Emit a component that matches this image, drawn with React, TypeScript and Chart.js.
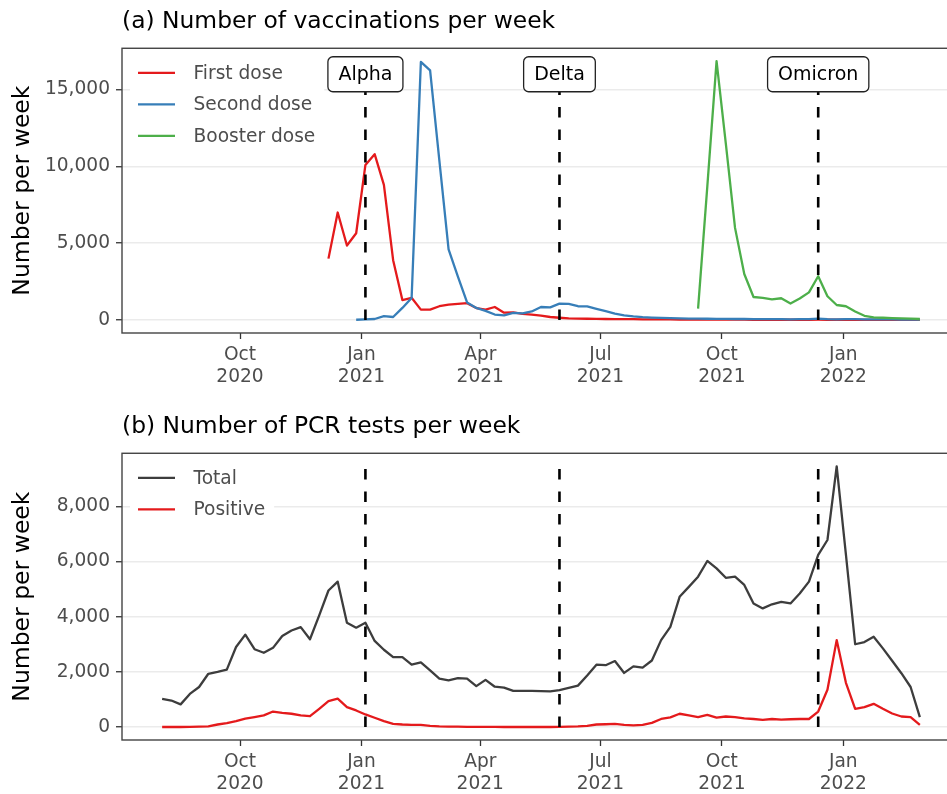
import React, { useEffect, useRef } from "react";
import { Chart, registerables } from "chart.js";

Chart.register(...registerables);

const FONT = "'DejaVu Sans', sans-serif";

// Week start dates (Mondays)
const weeks = [
  "2020-08-03", "2020-08-10", "2020-08-17", "2020-08-24", "2020-08-31",
  "2020-09-07", "2020-09-14", "2020-09-21", "2020-09-28",
  "2020-10-05", "2020-10-12", "2020-10-19", "2020-10-26",
  "2020-11-02", "2020-11-09", "2020-11-16", "2020-11-23", "2020-11-30",
  "2020-12-07", "2020-12-14", "2020-12-21", "2020-12-28",
  "2021-01-04", "2021-01-11", "2021-01-18", "2021-01-25",
  "2021-02-01", "2021-02-08", "2021-02-15", "2021-02-22",
  "2021-03-01", "2021-03-08", "2021-03-15", "2021-03-22", "2021-03-29",
  "2021-04-05", "2021-04-12", "2021-04-19", "2021-04-26",
  "2021-05-03", "2021-05-10", "2021-05-17", "2021-05-24", "2021-05-31",
  "2021-06-07", "2021-06-14", "2021-06-21", "2021-06-28",
  "2021-07-05", "2021-07-12", "2021-07-19", "2021-07-26",
  "2021-08-02", "2021-08-09", "2021-08-16", "2021-08-23", "2021-08-30",
  "2021-09-06", "2021-09-13", "2021-09-20", "2021-09-27",
  "2021-10-04", "2021-10-11", "2021-10-18", "2021-10-25",
  "2021-11-01", "2021-11-08", "2021-11-15", "2021-11-22", "2021-11-29",
  "2021-12-06", "2021-12-13", "2021-12-20", "2021-12-27",
  "2022-01-03", "2022-01-10", "2022-01-17", "2022-01-24", "2022-01-31",
  "2022-02-07", "2022-02-14", "2022-02-21", "2022-02-28",
];

const N = null;

// (a) vaccinations per week
const firstDose = [
  N, N, N, N, N, N, N, N, N, N, N, N, N, N, N, N, N, N,
  4000, 7000, 4850, 5650, 10100, 10800, 8800, 3900, 1300, 1450,
  680, 680, 900, 1000, 1050, 1100, 780, 680, 850, 480,
  500, 400, 360, 290, 200, 150, 110, 95, 85, 80,
  70, 65, 60, 55, 50, 45, 45, 40, 35, 35,
  30, 30, 30, 25, 25, 25, 20, 20, 20, 20,
  20, 20, 20, 25, 20, 20, 20, 15, 15, 15,
  15, 10, 10, 10, 10,
];

const secondDose = [
  N, N, N, N, N, N, N, N, N, N, N, N, N, N, N, N, N, N, N, N, N,
  20, 40, 70, 250, 200, 790, 1440, 16800, 16250, 10400,
  4600, 2850, 1150, 790, 600, 360, 300, 470, 430, 560,
  850, 830, 1070, 1050, 900, 890, 730, 580, 420, 310,
  240, 190, 160, 140, 125, 110, 100, 95, 85, 80,
  75, 70, 70, 65, 60, 65, 55, 50, 55, 60,
  90, 60, 50, 55, 60, 50, 45, 40, 40, 35,
  35, 30,
];

const boosterDose = [
  N, N, N, N, N, N, N, N, N, N, N, N, N, N, N, N, N, N, N, N,
  N, N, N, N, N, N, N, N, N, N, N, N, N, N, N, N, N, N, N, N,
  N, N, N, N, N, N, N, N, N, N, N, N, N, N, N, N, N, N,
  750, 8700, 16850, 11500, 6000, 3000, 1500, 1450, 1350, 1420,
  1080, 1400, 1800, 2850, 1550, 980, 900, 560, 280, 180,
  150, 130, 110, 90, 70,
];

// (b) PCR tests per week
const pcrTotal = [
  1020, 960, 820, 1200, 1450, 1930, 2000, 2080, 2900, 3350,
  2820, 2690, 2870, 3300, 3500, 3620, 3180, 4050, 4950, 5270,
  3780, 3600, 3780, 3120, 2800, 2530, 2530, 2260, 2340, 2050,
  1750, 1690, 1770, 1750, 1480, 1710, 1460, 1430, 1310, 1310,
  1310, 1300, 1290, 1340, 1420, 1500, 1870, 2260, 2240, 2390,
  1960, 2200, 2150, 2410, 3150, 3630, 4720, 5080, 5450, 6020,
  5750, 5410, 5450, 5150, 4480, 4300, 4450, 4540, 4480, 4840,
  5270, 6240, 6780, 9450, 6250, 3000, 3080, 3270, 2850, 2400,
  1950, 1450, 360,
];

const pcrPositive = [
  0, 0, 0, 5, 15, 25, 90, 140, 210, 300,
  360, 420, 560, 515, 480, 420, 390, 660, 940, 1025,
  720, 600, 455, 335, 210, 115, 90, 80, 75, 40,
  20, 10, 10, 5, 5, 5, 5, 0, 0, 0,
  0, 0, 0, 5, 10, 20, 40, 90, 100, 115,
  80, 60, 80, 150, 290, 350, 480, 420, 360, 440,
  340, 380, 360, 310, 290, 260, 290, 270, 280, 290,
  290, 560, 1350, 3150, 1600, 660, 720, 840, 660, 490,
  380, 360, 80,
];

const xTickDates = ["2020-10-01", "2021-01-01", "2021-04-01", "2021-07-01", "2021-10-01", "2022-01-01"];
const xTickLabels = [["Oct", "2020"], ["Jan", "2021"], ["Apr", "2021"], ["Jul", "2021"], ["Oct", "2021"], ["Jan", "2022"]];

const variantNames = ["Alpha", "Delta", "Omicron"];
const variantDates = ["2021-01-04", "2021-05-31", "2021-12-13"];

const vaxTicks = [0, 5000, 10000, 15000];
const pcrTicks = [0, 2000, 4000, 6000, 8000];

function dayNum(s: string): number {
  const [y, m, d] = s.split("-").map(Number);
  return (Date.UTC(y, m - 1, d) - Date.UTC(2020, 0, 1)) / 86400000;
}

const X_MIN = 184.6;
const X_MAX = 817.9;

type Series = { label: string; color: string; values: (number | null)[]; order: number };

type PanelCfg = {
  title: string;
  series: Series[];
  yMin: number;
  yMax: number;
  yTicks: number[];
  titlePadTop: number;
  titlePadBottom: number;
  xAxisHeight: number;
  showVariantLabels: boolean;
  vlineTop: number;
  labelValue: number;
};

function makeDecor(cfg: PanelCfg) {
  return {
    id: "decor",
    afterDatasetsDraw(chart: any) {
      const { ctx, chartArea, scales } = chart;
      const xs = scales.x;
      const ys = scales.y;
      ctx.save();
      // dashed variant lines
      ctx.strokeStyle = "#000";
      ctx.lineWidth = 2.6;
      ctx.setLineDash([10.5, 12]);
      ctx.lineCap = "butt";
      variantDates.forEach((d) => {
        const x = xs.getPixelForValue(dayNum(d));
        ctx.beginPath();
        ctx.moveTo(x, ys.getPixelForValue(0));
        ctx.lineTo(x, ys.getPixelForValue(cfg.vlineTop));
        ctx.stroke();
      });
      ctx.setLineDash([]);

      // variant label boxes
      if (cfg.showVariantLabels) {
        ctx.font = `19px ${FONT}`;
        variantNames.forEach((name, i) => {
          const cx = xs.getPixelForValue(dayNum(variantDates[i]));
          const cy = ys.getPixelForValue(cfg.labelValue);
          const w = ctx.measureText(name).width + 21;
          const h = 35;
          const x0 = cx - w / 2;
          const y0 = cy - h / 2;
          const r = 5;
          ctx.beginPath();
          ctx.moveTo(x0 + r, y0);
          ctx.lineTo(x0 + w - r, y0);
          ctx.arcTo(x0 + w, y0, x0 + w, y0 + r, r);
          ctx.lineTo(x0 + w, y0 + h - r);
          ctx.arcTo(x0 + w, y0 + h, x0 + w - r, y0 + h, r);
          ctx.lineTo(x0 + r, y0 + h);
          ctx.arcTo(x0, y0 + h, x0, y0 + h - r, r);
          ctx.lineTo(x0, y0 + r);
          ctx.arcTo(x0, y0, x0 + r, y0, r);
          ctx.closePath();
          ctx.fillStyle = "#ffffff";
          ctx.fill();
          ctx.strokeStyle = "#222";
          ctx.lineWidth = 1.3;
          ctx.stroke();
          ctx.fillStyle = "#000";
          ctx.textAlign = "center";
          ctx.textBaseline = "middle";
          ctx.fillText(name, cx, cy + 1);
        });
      }

      // legend
      ctx.font = `18.6px ${FONT}`;
      const lx = chartArea.left + 16;
      const tx = chartArea.left + 71.5;
      const rowY = (i: number) => chartArea.top + 24.5 + i * 31.5;
      let maxW = 0;
      cfg.series.forEach((s) => {
        maxW = Math.max(maxW, ctx.measureText(s.label).width);
      });
      ctx.fillStyle = "#ffffff";
      const n = cfg.series.length;
      ctx.fillRect(chartArea.left + 8, chartArea.top + 4, tx + maxW + 9 - (chartArea.left + 8), rowY(n - 1) + 20 - (chartArea.top + 4));
      cfg.series.forEach((s, i) => {
        const y = rowY(i);
        ctx.strokeStyle = s.color;
        ctx.lineWidth = 2.2;
        ctx.beginPath();
        ctx.moveTo(lx, y);
        ctx.lineTo(lx + 37, y);
        ctx.stroke();
        ctx.fillStyle = "#4d4d4d";
        ctx.textAlign = "left";
        ctx.textBaseline = "middle";
        ctx.fillText(s.label, tx, y + 1);
      });
      ctx.restore();
    },
    afterDraw(chart: any) {
      const { ctx, chartArea } = chart;
      ctx.save();
      ctx.strokeStyle = "#444";
      ctx.lineWidth = 1.4;
      ctx.strokeRect(chartArea.left, chartArea.top, chartArea.right - chartArea.left, chartArea.bottom - chartArea.top);
      ctx.restore();
    },
  };
}

function Panel({ cfg, top }: { cfg: PanelCfg; top: number }) {
  const ref = useRef<HTMLCanvasElement | null>(null);
  useEffect(() => {
    if (!ref.current) return;
    const xTickVals = xTickDates.map(dayNum);
    const chart = new Chart(ref.current, {
      type: "line",
      data: {
        datasets: cfg.series.map((s) => ({
          label: s.label,
          data: weeks.map((w, i) => ({ x: dayNum(w), y: s.values[i] })),
          borderColor: s.color,
          backgroundColor: s.color,
          borderWidth: 2.3,
          pointRadius: 0,
          tension: 0,
          fill: false,
          spanGaps: false,
          borderJoinStyle: "round",
          borderCapStyle: "butt",
          order: s.order,
        })) as any,
      },
      options: {
        responsive: false,
        animation: false,
        devicePixelRatio: 1,
        layout: { padding: { left: 0, right: 12, top: 0, bottom: 0 } },
        events: [],
        plugins: {
          legend: { display: false },
          tooltip: { enabled: false },
          title: {
            display: true,
            text: cfg.title,
            align: "start",
            fullSize: false,
            color: "#000",
            font: { family: FONT, size: 23.4, weight: "normal", lineHeight: 1.2 },
            padding: { top: cfg.titlePadTop, bottom: cfg.titlePadBottom },
          },
        },
        scales: {
          x: {
            type: "linear",
            min: X_MIN,
            max: X_MAX,
            afterBuildTicks: (s: any) => {
              s.ticks = xTickVals.map((v) => ({ value: v }));
            },
            afterFit: (s: any) => {
              s.height = cfg.xAxisHeight;
            },
            ticks: {
              autoSkip: false,
              maxRotation: 0,
              minRotation: 0,
              padding: 5,
              color: "#4d4d4d",
              font: { family: FONT, size: 18.6, lineHeight: 1.2 },
              callback: (_v: any, i: number) => xTickLabels[i],
            },
            grid: {
              display: true,
              drawOnChartArea: false,
              drawTicks: true,
              tickLength: 6,
              tickColor: "#333",
              tickWidth: 1.3,
            },
            border: { display: false },
          },
          y: {
            type: "linear",
            min: cfg.yMin,
            max: cfg.yMax,
            afterBuildTicks: (s: any) => {
              s.ticks = cfg.yTicks.map((v) => ({ value: v }));
            },
            afterFit: (s: any) => {
              s.width = 122;
            },
            ticks: {
              padding: 6,
              color: "#4d4d4d",
              font: { family: FONT, size: 18.6 },
              callback: (v: any) => Number(v).toLocaleString("en-US"),
            },
            grid: {
              color: "#ebebeb",
              lineWidth: 1.5,
              drawTicks: true,
              tickLength: 6,
              tickColor: "#333",
              tickWidth: 1.3,
            },
            border: { display: false },
            title: {
              display: true,
              text: "Number per week",
              color: "#000",
              font: { family: FONT, size: 23.5, lineHeight: 1.2 },
              padding: { top: 9.2, bottom: 0 },
            },
          },
        },
      } as any,
      plugins: [makeDecor(cfg)],
    });
    return () => chart.destroy();
  }, [cfg]);
  return (
    <canvas
      ref={ref}
      width={970}
      height={397}
      style={{ position: "absolute", left: 0, top, width: 970, height: 397, display: "block" }}
    />
  );
}

const vaxCfg: PanelCfg = {
  title: "(a) Number of vaccinations per week",
  series: [
    { label: "First dose", color: "#E41A1C", values: firstDose, order: 3 },
    { label: "Second dose", color: "#377EB8", values: secondDose, order: 2 },
    { label: "Booster dose", color: "#4DAF4A", values: boosterDose, order: 1 },
  ],
  yMin: -842,
  yMax: 17690,
  yTicks: vaxTicks,
  titlePadTop: 7.45,
  titlePadBottom: 12.75,
  xAxisHeight: 64,
  showVariantLabels: true,
  vlineTop: 16000,
  labelValue: 16000,
};

const pcrCfg: PanelCfg = {
  title: "(b) Number of PCR tests per week",
  series: [
    { label: "Total", color: "#3d3d3d", values: pcrTotal, order: 2 },
    { label: "Positive", color: "#E41A1C", values: pcrPositive, order: 1 },
  ],
  yMin: -472,
  yMax: 9925,
  yTicks: pcrTicks,
  titlePadTop: 16.25,
  titlePadBottom: 11.95,
  xAxisHeight: 54,
  showVariantLabels: false,
  vlineTop: 9500,
  labelValue: 16000,
};

export default function App() {
  return (
    <div
      style={{
        position: "absolute",
        left: 0,
        top: 0,
        width: 947,
        height: 794,
        overflow: "hidden",
        background: "#ffffff",
      }}
    >
      <Panel cfg={vaxCfg} top={0} />
      <Panel cfg={pcrCfg} top={397} />
    </div>
  );
}
